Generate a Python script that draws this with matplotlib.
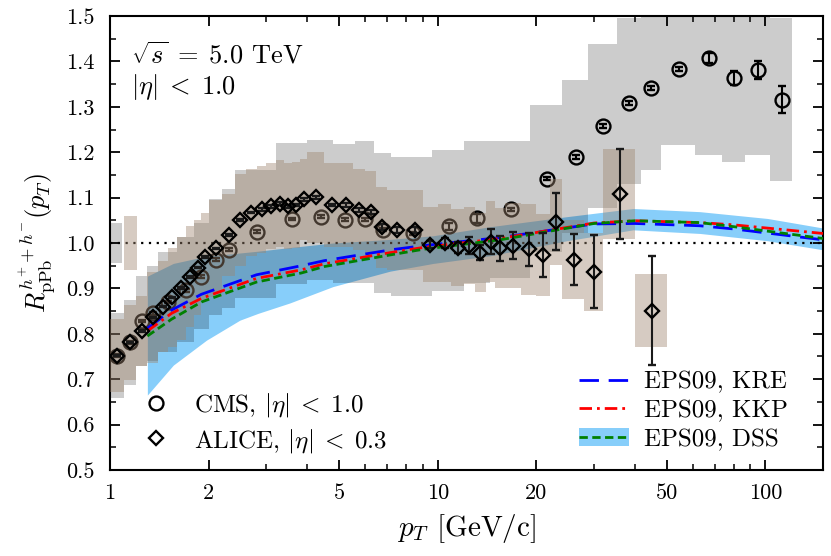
import numpy as np
import matplotlib
matplotlib.use("Agg")
import matplotlib.pyplot as plt
from matplotlib.lines import Line2D
from matplotlib.patches import Patch
from matplotlib.ticker import MultipleLocator, FormatStrFormatter, LogLocator, NullFormatter

plt.rcParams['font.family'] = 'serif'
plt.rcParams['font.serif'] = ['cmr10', 'DejaVu Serif']
plt.rcParams['mathtext.fontset'] = 'cm'
plt.rcParams['axes.formatter.use_mathtext'] = True

# CMS, |eta| < 1.0  (bin edges, values, stat. and syst. errors)
cms_edges = [1.0, 1.1, 1.2, 1.3, 1.4, 1.6, 1.8, 2.0, 2.2, 2.4, 3.2, 4.0, 4.8, 5.6, 6.4,
             7.2, 9.6, 12.0, 14.4, 19.2, 24.0, 28.8, 35.2, 41.6, 48.0, 60.8, 73.6, 86.4,
             103.6, 120.8]
cms_y = [0.752, 0.781, 0.828, 0.845, 0.870, 0.896, 0.926, 0.963, 0.985, 1.025, 1.053,
         1.058, 1.051, 1.052, 1.029, 1.021, 1.037, 1.054, 1.074, 1.142, 1.190, 1.258,
         1.308, 1.342, 1.383, 1.407, 1.363, 1.381, 1.316]
cms_stat = [0.003, 0.003, 0.003, 0.003, 0.003, 0.003, 0.003, 0.003, 0.003,
            0.003, 0.003, 0.003, 0.003, 0.003, 0.003, 0.004, 0.008, 0.010,
            0.004, 0.004, 0.004, 0.004, 0.004, 0.004, 0.005, 0.011, 0.015,
            0.020, 0.030]
cms_sys_up = [0.093, 0.094, 0.100, 0.105, 0.110, 0.118, 0.118, 0.135, 0.134, 0.136,
              0.168, 0.169, 0.167, 0.173, 0.169, 0.168, 0.168, 0.171, 0.151, 0.162,
              0.169, 0.180, 0.188, 0.180, 0.167, 0.213, 0.185, 0.187, 0.179]
cms_sys_dn = [0.093, 0.094, 0.100, 0.105, 0.110, 0.115, 0.115, 0.122, 0.129, 0.147,
              0.144, 0.140, 0.140, 0.140, 0.140, 0.138, 0.142, 0.143, 0.151, 0.162,
              0.169, 0.180, 0.177, 0.181, 0.167, 0.213, 0.185, 0.187, 0.179]

# ALICE, |eta| < 0.3
alice_edges = [1.0, 1.1, 1.2, 1.3, 1.4, 1.5, 1.6, 1.7, 1.8, 1.9, 2.0, 2.2, 2.4, 2.6, 2.8,
               3.0, 3.2, 3.4, 3.6, 3.8, 4.0, 4.5, 5.0, 5.5, 6.0, 6.5, 7.0, 8.0, 9.0, 10.0,
               11.0, 12.0, 13.0, 14.0, 15.0, 16.0, 18.0, 20.0, 22.0, 24.0, 28.0, 32.0,
               40.0, 50.0]
alice_y = [0.752, 0.781, 0.806, 0.836, 0.860, 0.880, 0.900, 0.926, 0.946, 0.970,
           0.988, 1.018, 1.051, 1.067, 1.074, 1.081, 1.087, 1.081, 1.084, 1.096,
           1.101, 1.084, 1.084, 1.073, 1.068, 1.035, 1.029, 1.029, 0.996, 1.000,
           0.990, 0.994, 0.979, 1.003, 0.988, 0.994, 0.986, 0.974, 1.047, 0.963,
           0.937, 1.108, 0.851]
alice_stat = [0.002, 0.002, 0.002, 0.002, 0.002, 0.002, 0.002, 0.002, 0.002, 0.002,
              0.002, 0.002, 0.002, 0.002, 0.003, 0.003, 0.003, 0.003, 0.003, 0.003,
              0.003, 0.003, 0.004, 0.004, 0.005, 0.006, 0.006, 0.007, 0.008, 0.010,
              0.012, 0.019, 0.017, 0.028, 0.027, 0.030, 0.036, 0.048, 0.063, 0.056,
              0.080, 0.100, 0.120]
alice_sys = [0.080, 0.083, 0.078, 0.100, 0.100, 0.108, 0.114, 0.111, 0.105, 0.096,
             0.107, 0.090, 0.102, 0.095, 0.095, 0.095, 0.095, 0.095, 0.095, 0.090,
             0.100, 0.093, 0.092, 0.089, 0.090, 0.089, 0.088, 0.088, 0.083, 0.085,
             0.085, 0.085, 0.088, 0.090, 0.088, 0.094, 0.100, 0.090, 0.095, 0.087,
             0.086, 0.100, 0.081]

# normalisation uncertainties (pT range, half height)
cms_norm = (1.0, 1.09, 0.045)
alice_norm = (1.10, 1.21, 0.06)

# EPS09 calculations
theo_x = [1.3, 1.54, 1.9, 2.8, 3.84, 4.5, 7.2, 9.0, 15.5, 30, 40, 63, 80, 150]
kre = [0.812, 0.852, 0.887, 0.930, 0.950, 0.961, 0.985, 0.994, 1.012, 1.042, 1.043, 1.038, 1.031, 1.007]
kkp = [0.806, 0.845, 0.878, 0.922, 0.941, 0.954, 0.979, 0.990, 1.010, 1.044, 1.049, 1.045, 1.040, 1.021]
dss = [0.795, 0.832, 0.870, 0.914, 0.934, 0.948, 0.974, 0.986, 1.007, 1.043, 1.049, 1.045, 1.036, 1.010]
band_x = [1.3, 1.56, 1.97, 2.49, 2.83, 3.54, 4.79, 7.16, 9.69, 14.5, 24.8, 39.5, 63.2, 101.6, 150]
band_lo = [0.665, 0.731, 0.786, 0.830, 0.845, 0.868, 0.904, 0.938, 0.955, 0.972, 1.005, 1.029, 1.021, 1.005, 0.985]
band_hi = [0.927, 0.955, 0.971, 0.978, 0.982, 0.990, 1.000, 1.008, 1.016, 1.036, 1.058, 1.076, 1.069, 1.054, 1.033]

grey = 'k'
brown = (0.62, 0.52, 0.43)

fig = plt.figure(figsize=(8.31, 5.56), dpi=100)
ax = fig.add_axes([0.1324, 0.1547, 0.858, 0.8165])
ax.set_xscale('log')

# DSS uncertainty band
ax.fill_between(band_x, band_lo, band_hi, color='#87cefa', lw=0, zorder=1)
ax.axhline(1.0, color='k', ls=(0, (1, 2.5)), lw=1.6, zorder=2)

# CMS syst. boxes + points
ce = np.array(cms_edges)
cy = np.array(cms_y)
cx = 0.5 * (ce[:-1] + ce[1:])
cup = np.array(cms_sys_up)
cdn = np.array(cms_sys_dn)
ax.bar(ce[:-1], cup + cdn, width=np.diff(ce), bottom=cy - cdn, align='edge',
       color=grey, alpha=0.2, lw=0, zorder=3)
ax.bar(cms_norm[0], 2 * cms_norm[2], width=cms_norm[1] - cms_norm[0],
       bottom=1 - cms_norm[2], align='edge', color=grey, alpha=0.2, lw=0, zorder=3)
ax.errorbar(cx, cy, yerr=cms_stat, fmt='o', mfc='none', mec='k', ms=10, mew=1.7,
            ecolor='k', elinewidth=1.5, capsize=3, capthick=1.5, zorder=4)

# ALICE syst. boxes + points
ae = np.array(alice_edges)
ay = np.array(alice_y)
axx = 0.5 * (ae[:-1] + ae[1:])
asys = np.array(alice_sys)
ax.bar(ae[:-1], 2 * asys, width=np.diff(ae), bottom=ay - asys, align='edge',
       color=brown, alpha=0.42, lw=0, zorder=5)
ax.bar(alice_norm[0], 2 * alice_norm[2], width=alice_norm[1] - alice_norm[0],
       bottom=1 - alice_norm[2], align='edge', color=brown, alpha=0.42, lw=0, zorder=5)

# theory curves
ax.plot(theo_x, kre, color='blue', lw=2.0, dashes=(7, 3.5), zorder=6)
ax.plot(theo_x, kkp, color='red', lw=2.0, dashes=(4.5, 1.8, 1, 1.8), zorder=6)
ax.plot(theo_x, dss, color='green', lw=2.0, dashes=(3, 1.6), zorder=6)

ax.errorbar(axx, ay, yerr=alice_stat, fmt='D', mfc='none', mec='k', ms=7.5, mew=1.7,
            ecolor='#1a1a1a', elinewidth=1.5, capsize=3, capthick=1.5, zorder=7)

ax.set_xlim(1, 150)
ax.set_ylim(0.5, 1.5)
ax.set_xticks([1, 2, 5, 10, 20, 50, 100])
ax.set_xticklabels(['1', '2', '5', '10', '20', '50', '100'])
ax.xaxis.set_minor_locator(LogLocator(base=10, subs=np.arange(2, 10)))
ax.xaxis.set_minor_formatter(NullFormatter())
ax.yaxis.set_major_locator(MultipleLocator(0.1))
ax.yaxis.set_minor_locator(MultipleLocator(0.05))
ax.yaxis.set_major_formatter(FormatStrFormatter('%.1f'))
ax.tick_params(which='both', direction='in', top=True, right=True, labelsize=16)
ax.tick_params(which='major', length=7, width=1.3)
ax.tick_params(which='minor', length=4, width=1.1)
ax.tick_params(axis='y', pad=11)
ax.tick_params(axis='x', pad=10)
for s in ax.spines.values():
    s.set_linewidth(1.5)

ax.set_xlabel(r'$p_T$ [GeV/c]', fontsize=21, labelpad=6)
ax.set_ylabel(r'$R_{\rm pPb}^{h^{+}+h^{-}}(p_T)$', fontsize=19, labelpad=6)

ax.text(0.03, 0.913, r'$\sqrt{s}\;=\;5.0$ TeV', transform=ax.transAxes,
        fontsize=19, va='center')
ax.text(0.03, 0.843, r'$|\eta|\;<\;1.0$', transform=ax.transAxes, fontsize=19,
        va='center')

h1 = [Line2D([], [], marker='o', ls='none', mfc='none', mec='k', ms=10, mew=1.7),
      Line2D([], [], marker='D', ls='none', mfc='none', mec='k', ms=7.5, mew=1.7)]
leg1 = ax.legend(h1, [r'CMS, $|\eta|\;<\;1.0$', r'ALICE, $|\eta|\;<\;0.3$'],
                 loc='lower left', bbox_to_anchor=(0.03, 0.012), frameon=False,
                 fontsize=18, handlelength=1.2, handletextpad=0.9, labelspacing=0.3,
                 borderaxespad=0)
ax.add_artist(leg1)

h2 = [Line2D([], [], color='blue', lw=2.0, dashes=(7, 3.5)),
      Line2D([], [], color='red', lw=2.0, dashes=(4.5, 1.8, 1, 1.8)),
      (Patch(facecolor='#87cefa', edgecolor='none'),
       Line2D([], [], color='green', lw=2.0, dashes=(3, 1.6)))]
ax.legend(h2, ['EPS09, KRE', 'EPS09, KKP', 'EPS09, DSS'], loc='lower right',
          bbox_to_anchor=(0.965, 0.02), frameon=False, fontsize=18,
          handlelength=2.0, handletextpad=0.6, labelspacing=0.25, borderaxespad=0)

fig.savefig('out.png', dpi=100)
